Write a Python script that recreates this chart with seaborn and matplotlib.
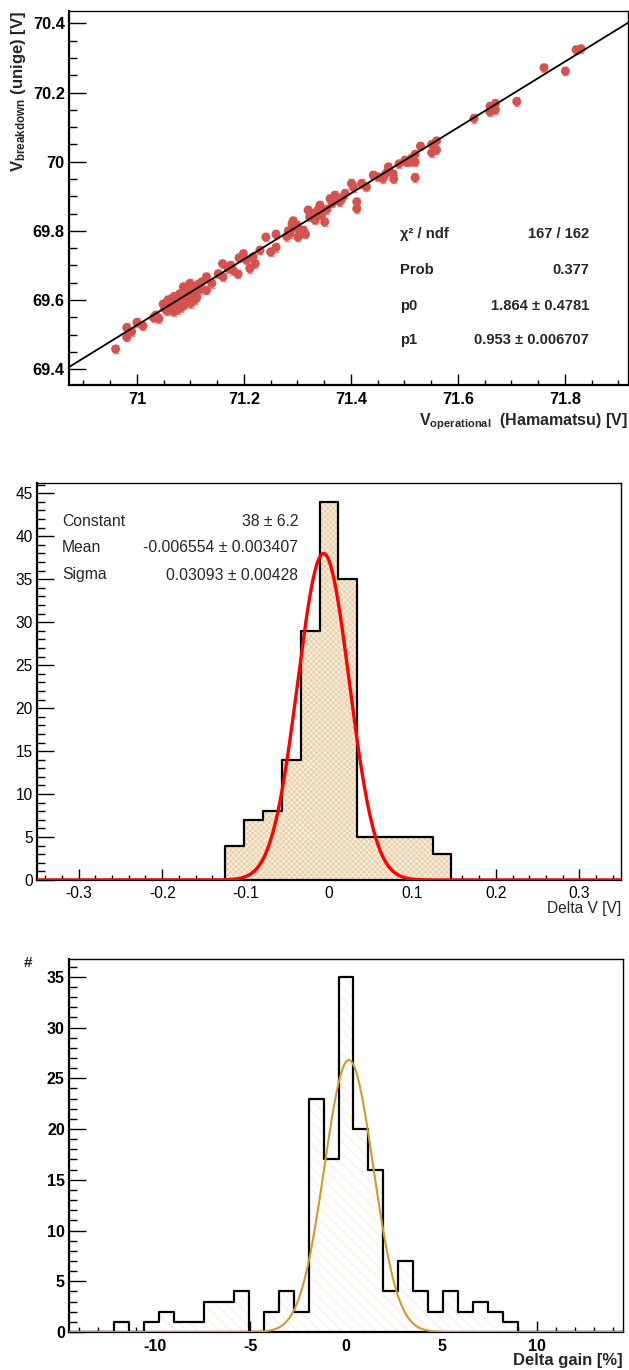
import numpy as np
import pandas as pd
import matplotlib
matplotlib.use('Agg')
import matplotlib.pyplot as plt
import seaborn as sns
from matplotlib.ticker import MultipleLocator, FuncFormatter

# --- top: breakdown voltage (unige) vs operational voltage (Hamamatsu)
v_operational = [
    70.960, 70.981, 70.981, 70.990, 71.000, 71.011, 71.031, 71.041, 71.035, 71.049,
    71.052, 71.055, 71.057, 71.058, 71.060, 71.062, 71.063, 71.065, 71.066, 71.068,
    71.069, 71.070, 71.072, 71.073, 71.075, 71.076, 71.078, 71.079, 71.080, 71.082,
    71.083, 71.085, 71.086, 71.087, 71.088, 71.090, 71.091, 71.093, 71.094, 71.096,
    71.097, 71.099, 71.100, 71.101, 71.103, 71.105, 71.107, 71.108, 71.110, 71.112,
    71.115, 71.118, 71.121,
    71.130, 71.130, 71.140, 71.152, 71.160, 71.161, 71.171, 71.175, 71.180, 71.189,
    71.191, 71.199, 71.205, 71.211, 71.217, 71.221, 71.230, 71.241, 71.250, 71.260,
    71.260, 71.280, 71.283, 71.286, 71.290, 71.292, 71.295, 71.299, 71.301, 71.305,
    71.311, 71.315, 71.320, 71.323, 71.328, 71.333, 71.338, 71.342, 71.345, 71.351,
    71.355, 71.361, 71.365, 71.370, 71.379, 71.384, 71.389, 71.401, 71.405, 71.411,
    71.411, 71.420, 71.429, 71.442, 71.451, 71.460, 71.465, 71.470, 71.470, 71.479,
    71.480, 71.490, 71.501, 71.504, 71.510, 71.513, 71.520, 71.520, 71.520, 71.530,
    71.551, 71.551, 71.560, 71.560, 71.630, 71.660, 71.670, 71.660, 71.670, 71.665,
    71.710, 71.761, 71.801, 71.821, 71.830,
]
v_breakdown = [
    69.458, 69.520, 69.492, 69.508, 69.535, 69.525, 69.549, 69.546, 69.556, 69.588,
    69.575, 69.590, 69.568, 69.600, 69.582, 69.570, 69.596, 69.604, 69.578, 69.588,
    69.566, 69.610, 69.594, 69.580, 69.600, 69.572, 69.606, 69.588, 69.618, 69.595,
    69.578, 69.612, 69.600, 69.638, 69.585, 69.620, 69.605, 69.592, 69.628, 69.612,
    69.598, 69.648, 69.620, 69.590, 69.632, 69.612, 69.640, 69.600, 69.625, 69.608,
    69.645, 69.630, 69.652,
    69.667, 69.628, 69.648, 69.676, 69.705, 69.667, 69.691, 69.700, 69.685, 69.675,
    69.722, 69.734, 69.715, 69.691, 69.725, 69.705, 69.744, 69.782, 69.739, 69.790,
    69.752, 69.784, 69.800, 69.792, 69.820, 69.829, 69.810, 69.816, 69.782, 69.798,
    69.802, 69.790, 69.860, 69.840, 69.850, 69.831, 69.860, 69.874, 69.845, 69.826,
    69.862, 69.893, 69.880, 69.903, 69.884, 69.895, 69.908, 69.937, 69.925, 69.884,
    69.864, 69.937, 69.927, 69.961, 69.956, 69.951, 69.965, 69.985, 69.978, 69.965,
    69.950, 69.994, 70.004, 69.999, 69.999, 70.009, 70.021, 69.999, 69.954, 70.045,
    70.050, 70.026, 70.060, 70.034, 70.125, 70.160, 70.168, 70.144, 70.150, 70.155,
    70.174, 70.272, 70.262, 70.324, 70.327,
]
v_err = 0.012
fit_p0, fit_p1 = 1.864, 0.953
fit_labels = ['\u03c7\u00b2 / ndf', 'Prob', 'p0', 'p1']
fit_values = ['167 / 162', '0.377', '1.864 \u00b1 0.4781', '0.953 \u00b1 0.006707']

# --- middle: Delta V histogram, 31 bins in [-0.35, 0.35]
dv_range = (-0.35, 0.35)
dv_counts = [0, 0, 0, 0, 0, 0, 0, 0, 0, 0,
             4, 7, 8, 14, 29, 44, 35, 5, 5, 5, 5, 3,
             0, 0, 0, 0, 0, 0, 0, 0, 0]
dv_const, dv_mean, dv_sigma = 38.0, -0.006554, 0.03093
dv_labels = ['Constant', 'Mean', 'Sigma']
dv_values = ['38 \u00b1 6.2', '-0.006554 \u00b1 0.003407', '0.03093 \u00b1 0.00428']

# --- bottom: Delta gain histogram, 37 bins in [-14.5, 14.5]
dg_range = (-14.5, 14.5)
dg_counts = [0, 0, 0, 1, 0, 1, 2, 1, 1, 3, 3, 4, 0, 2, 4, 2, 23, 17, 35, 20,
             16, 4, 7, 4, 2, 4, 2, 3, 2, 1, 0, 0, 0, 0, 0, 0, 0]
dg_const, dg_mean, dg_sigma = 26.8, 0.15, 1.28

sns.set_theme(style='white')
plt.rcParams['font.family'] = ['Liberation Sans', 'DejaVu Sans']
plt.rcParams['mathtext.fontset'] = 'custom'
plt.rcParams['mathtext.rm'] = 'Liberation Sans'
plt.rcParams['mathtext.bf'] = 'Liberation Sans:bold'
plt.rcParams['axes.unicode_minus'] = False
plt.rcParams['hatch.linewidth'] = 0.6

W, H = 629, 1370
fig = plt.figure(figsize=(W / 100, H / 100), dpi=100)


def box(l, t, r, b):
    return [l / W, 1 - b / H, (r - l) / W, (b - t) / H]


def fx(px):
    return px / W


def fy(py):
    return 1 - py / H


def gfmt(v, pos):
    v = round(v, 4) + 0.0
    return '%g' % v


def style_axes(ax, weight, size):
    for s in ax.spines.values():
        s.set_color('black')
        s.set_linewidth(1.0)
    ax.spines['left'].set_linewidth(1.6)
    ax.spines['bottom'].set_linewidth(1.6)
    ax.tick_params(which='both', direction='in', top=False, right=False,
                   left=True, bottom=True, colors='black', width=1.0)
    ax.tick_params(axis='y', which='major', length=12, pad=3)
    ax.tick_params(axis='y', which='minor', length=6)
    ax.tick_params(axis='x', which='major', length=8, pad=5)
    ax.tick_params(axis='x', which='minor', length=3.6)
    ax.xaxis.set_major_formatter(FuncFormatter(gfmt))
    ax.yaxis.set_major_formatter(FuncFormatter(gfmt))
    for lab in ax.get_xticklabels() + ax.get_yticklabels():
        lab.set_fontweight(weight)
        lab.set_fontsize(size)
    ax.set_xlabel('')
    ax.set_ylabel('')
    ax.grid(False)


def hist_samples(counts, lo, hi):
    # one entry per counted event, placed at its bin centre
    edges = np.linspace(lo, hi, len(counts) + 1)
    centers = (edges[:-1] + edges[1:]) / 2
    return pd.DataFrame({'x': np.repeat(centers, counts)})


# ---------------- top panel
ax1 = fig.add_axes(box(69, 11, 628, 385))
ax1.errorbar(v_operational, v_breakdown, yerr=v_err, fmt='none',
             ecolor='#e8908c', elinewidth=1.0, capsize=2.0, capthick=1.0, zorder=2)
sns.scatterplot(x=v_operational, y=v_breakdown, ax=ax1, color='#d4534e',
                s=42, edgecolor='none', zorder=3)
xfit = np.array([70.873, 71.918])
sns.lineplot(x=xfit, y=fit_p0 + fit_p1 * xfit, ax=ax1, color='black', lw=1.3, zorder=4)
ax1.set_xlim(70.873, 71.918)
ax1.set_ylim(69.354, 70.436)
ax1.xaxis.set_major_locator(MultipleLocator(0.2))
ax1.xaxis.set_minor_locator(MultipleLocator(0.05))
ax1.yaxis.set_major_locator(MultipleLocator(0.2))
ax1.yaxis.set_minor_locator(MultipleLocator(0.05))
style_axes(ax1, 'bold', 11.8)
for i, (lab, val) in enumerate(zip(fit_labels, fit_values)):
    yy = [234, 270, 306, 340][i]
    fig.text(fx(400), fy(yy), lab, ha='left', va='center', fontsize=10.6, fontweight='bold')
    fig.text(fx(589), fy(yy), val, ha='right', va='center', fontsize=10.6, fontweight='bold')
fig.text(fx(19), fy(11), r'$\mathbf{V_{breakdown}}$ (unige) [V]', rotation=90,
         ha='center', va='top', fontsize=12, fontweight='bold')
fig.text(fx(628), fy(432), r'$\mathbf{V_{operational}}$  (Hamamatsu) [V]',
         ha='right', va='bottom', fontsize=11.5, fontweight='bold')

# ---------------- middle panel
ax2 = fig.add_axes(box(37, 483, 621, 880))
dv_df = hist_samples(dv_counts, *dv_range)
sns.histplot(data=dv_df, x='x', bins=len(dv_counts), binrange=dv_range, element='step',
             fill=True, color='#ebd0aa', alpha=1, linewidth=0, ax=ax2)
fill2 = ax2.collections[-1]
fill2.set_facecolor('#ebd1ac')
fill2.set_edgecolor('#fbf3e8')
fill2.set_linewidth(0)
fill2.set_hatch('xxxxxx')
sns.histplot(data=dv_df, x='x', bins=len(dv_counts), binrange=dv_range, element='step',
             fill=False, color='black', linewidth=1.6, ax=ax2)
xg = np.linspace(dv_range[0], dv_range[1], 600)
sns.lineplot(x=xg, y=dv_const * np.exp(-0.5 * ((xg - dv_mean) / dv_sigma) ** 2),
             ax=ax2, color='red', lw=2.4, zorder=5)
ax2.set_xlim(*dv_range)
ax2.set_ylim(0, 46.2)
ax2.xaxis.set_major_locator(MultipleLocator(0.1))
ax2.xaxis.set_minor_locator(MultipleLocator(0.02))
ax2.yaxis.set_major_locator(MultipleLocator(5))
ax2.yaxis.set_minor_locator(MultipleLocator(1))
style_axes(ax2, 'normal', 11.2)
ax2.tick_params(axis='x', which='major', pad=4)
for i, (lab, val) in enumerate(zip(dv_labels, dv_values)):
    yy = [521, 548, 575][i]
    fig.text(fx(62), fy(yy), lab, ha='left', va='center', fontsize=11.3)
    fig.text(fx(298), fy(yy), val, ha='right', va='center', fontsize=11.3)
fig.text(fx(621), fy(909), 'Delta V [V]', ha='right', va='center', fontsize=11.2)

# ---------------- bottom panel
ax3 = fig.add_axes(box(69, 959, 623, 1332))
dg_df = hist_samples(dg_counts, *dg_range)
sns.histplot(data=dg_df, x='x', bins=len(dg_counts), binrange=dg_range, element='step',
             fill=True, color='white', alpha=1, linewidth=0, ax=ax3)
fill3 = ax3.collections[-1]
fill3.set_facecolor('white')
fill3.set_edgecolor('#f6ead8')
fill3.set_linewidth(0)
fill3.set_hatch('\\\\\\')
sns.histplot(data=dg_df, x='x', bins=len(dg_counts), binrange=dg_range, element='step',
             fill=False, color='black', linewidth=1.6, ax=ax3)
xg3 = np.linspace(dg_range[0], dg_range[1], 600)
sns.lineplot(x=xg3, y=dg_const * np.exp(-0.5 * ((xg3 - dg_mean) / dg_sigma) ** 2),
             ax=ax3, color='#d09a2c', lw=1.5, zorder=5)
ax3.set_xlim(*dg_range)
ax3.set_ylim(0, 36.75)
ax3.xaxis.set_major_locator(MultipleLocator(5))
ax3.xaxis.set_minor_locator(MultipleLocator(1))
ax3.yaxis.set_major_locator(MultipleLocator(5))
ax3.yaxis.set_minor_locator(MultipleLocator(1))
style_axes(ax3, 'bold', 11.5)
fig.text(fx(28), fy(963), '#', ha='center', va='center', fontsize=11, fontweight='bold')
fig.text(fx(623), fy(1360), 'Delta gain [%]', ha='right', va='center',
         fontsize=12, fontweight='bold')

fig.savefig('out.png', dpi=100, facecolor='white')
